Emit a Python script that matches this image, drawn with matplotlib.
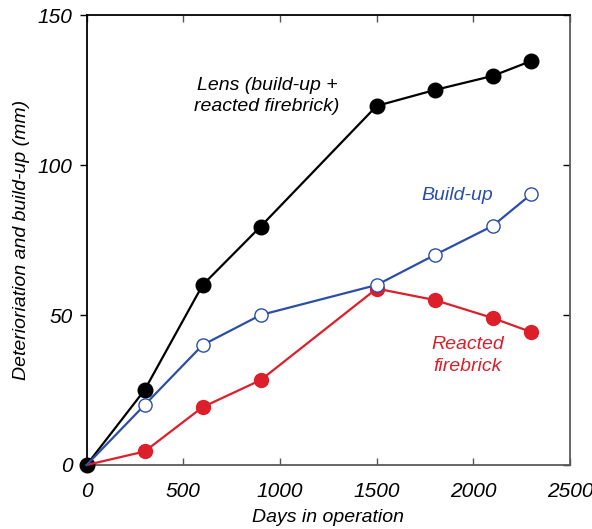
import matplotlib
matplotlib.use("Agg")
from matplotlib import pyplot as plt

days = [0, 300, 600, 900, 1500, 1800, 2100, 2300]
lens = [0, 25, 60, 79.5, 119.7, 125, 129.7, 134.7]
buildup = [0, 20, 40, 50, 60, 70, 79.7, 90.3]
firebrick = [0, 4.5, 19.3, 28.3, 58.8, 55, 49, 44.3]

xticks = [0, 500, 1000, 1500, 2000, 2500]
yticks = [0, 50, 100, 150]

BLACK = '#000000'
BLUE = '#2b4ea6'
RED = '#dc1f2b'

plt.rcParams['font.family'] = ['Liberation Sans', 'DejaVu Sans']

fig = plt.figure(figsize=(5.92, 5.29), dpi=100)
ax = fig.add_axes([0.1463, 0.121, 0.8166, 0.8506])

# origin point shows only the black dot, the other two lines run over it
rest = list(range(1, len(days)))
ax.plot(days, lens, color=BLACK, lw=1.6, marker='o', ms=10.5,
        mfc=BLACK, mec=BLACK, zorder=3, clip_on=False)
ax.plot(days, firebrick, color=RED, lw=1.6, marker='o', ms=10, markevery=rest,
        mfc=RED, mec=RED, zorder=4, clip_on=False)
ax.plot(days, buildup, color=BLUE, lw=1.6, marker='o', ms=9.5, markevery=rest,
        mfc='white', mec=BLUE, mew=1.0, zorder=5, clip_on=False)

ax.set_xlim(0, 2500)
ax.set_ylim(0, 150)
ax.set_xticks(xticks)
ax.set_yticks(yticks)

ax.tick_params(axis='x', which='both', direction='in', top=True, bottom=True,
               length=5, width=1, color='#555555', pad=12, labelsize=15)
ax.tick_params(axis='y', which='both', direction='out', left=True, right=False,
               length=5, width=1, pad=5, labelsize=15)
for lbl in ax.get_xticklabels() + ax.get_yticklabels():
    lbl.set_style('italic')

# right side ticks point inward
sec = ax.secondary_yaxis('right')
sec.set_yticks(yticks)
sec.tick_params(direction='in', length=5, width=1, labelright=False)
sec.spines['right'].set_visible(False)

ax.spines['left'].set_color(BLACK)
ax.spines['top'].set_color(BLACK)
ax.spines['bottom'].set_color('#5a5a5a')
ax.spines['right'].set_color('#5a5a5a')
for s in ax.spines.values():
    s.set_linewidth(1.3)

ax.set_xlabel('Days in operation', fontsize=14, style='italic', labelpad=6)
ax.set_ylabel('Deterioriation and build-up (mm)', fontsize=14, style='italic')
ax.yaxis.set_label_coords(-0.118, 0.5)

ax.text(933, 123, 'Lens (build-up +\nreacted firebrick)', color=BLACK, fontsize=14,
        style='italic', ha='center', va='center', linespacing=1.35)
ax.text(1918, 90, 'Build-up', color=BLUE, fontsize=14, style='italic',
        ha='center', va='center')
ax.text(1969, 36.5, 'Reacted\nfirebrick', color=RED, fontsize=14, style='italic',
        ha='center', va='center', linespacing=1.35)

plt.savefig('out.png', dpi=100)
